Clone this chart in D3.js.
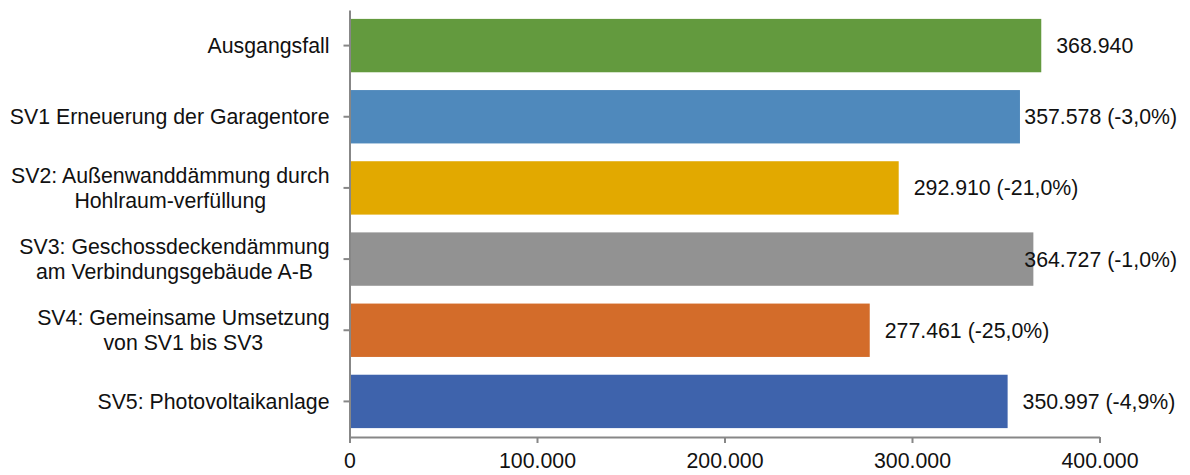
<!DOCTYPE html>
<html lang="de">
<head>
<meta charset="utf-8">
<title>Sanierungsvarianten</title>
<script src="https://cdn.jsdelivr.net/npm/d3@7/dist/d3.min.js"></script>
<style>
  html, body { margin: 0; padding: 0; background: #ffffff; }
  svg { display: block; font-family: "Liberation Sans", Arial, Helvetica, sans-serif; }
</style>
</head>
<body>
<svg id="chart" width="1190" height="475"></svg>
<script>
// Category labels (one entry per line of a label)
const categories = [
  ["Ausgangsfall"],
  ["SV1 Erneuerung der Garagentore"],
  ["SV2: Außenwanddämmung durch", "Hohlraum-verfüllung"],
  ["SV3: Geschossdeckendämmung", "am Verbindungsgebäude A-B"],
  ["SV4: Gemeinsame Umsetzung", "von SV1 bis SV3"],
  ["SV5: Photovoltaikanlage"]
];
const values = [368940, 357578, 292910, 364727, 277461, 350997];
const changes = [null, -3.0, -21.0, -1.0, -25.0, -4.9];
const colors = ["#639a3e", "#4f89bc", "#e2a900", "#929292", "#d36c2a", "#3e63ac"];
const xTicks = [0, 100000, 200000, 300000, 400000];

const de = d3.formatLocale({ decimal: ",", thousands: ".", grouping: [3], currency: ["", " €"], minus: "-" });
const fmtInt = de.format(",.0f");
const fmtPct = de.format(".1f");

const svg = d3.select("#chart");
const fontSize = 21.3;
const textColor = "#111111";
const axisColor = "#878787";

const plot = { left: 349.5, right: 1099.5, top: 10, bottom: 437 };
const labelRightEdge = 1177;   // value labels are kept inside the chart area

const x = d3.scaleLinear().domain([0, 400000]).range([plot.left, plot.right]);
const y = d3.scaleBand()
  .domain(d3.range(categories.length))
  .range([plot.top, plot.bottom])
  .paddingInner(0.25)
  .paddingOuter(0.125);

// Bars
svg.append("g")
  .selectAll("rect")
  .data(values)
  .join("rect")
  .attr("x", x(0))
  .attr("y", (d, i) => y(i))
  .attr("width", d => x(d) - x(0))
  .attr("height", y.bandwidth())
  .attr("fill", (d, i) => colors[i]);

// Bottom axis
const xAxis = svg.append("g")
  .attr("transform", `translate(0,${plot.bottom})`)
  .call(d3.axisBottom(x).tickValues(xTicks).tickFormat(fmtInt).tickSize(6).tickPadding(10).tickSizeOuter(0));
xAxis.select(".domain").attr("stroke", axisColor).attr("stroke-width", 2);
xAxis.selectAll(".tick line").attr("stroke", axisColor).attr("stroke-width", 2);
xAxis.selectAll(".tick text")
  .attr("fill", textColor)
  .style("font-size", fontSize + "px")
  .style("font-family", '"Liberation Sans", Arial, sans-serif');

// Left axis (ticks at category centres, labels drawn separately)
const yAxis = svg.append("g")
  .attr("transform", `translate(${plot.left},0)`)
  .call(d3.axisLeft(y).tickFormat("").tickSize(6).tickSizeOuter(0));
yAxis.select(".domain").attr("stroke", axisColor).attr("stroke-width", 2);
yAxis.selectAll(".tick line").attr("stroke", axisColor).attr("stroke-width", 2);

// Category labels: block right-aligned, lines centred within the block
const lineHeight = 25;
const catRight = plot.left - 20;
categories.forEach((lines, i) => {
  const cy = y(i) + y.bandwidth() / 2;
  const g = svg.append("g");
  const texts = lines.map((line, k) =>
    g.append("text")
      .attr("y", cy + (k - (lines.length - 1) / 2) * lineHeight)
      .attr("dy", "0.35em")
      .attr("fill", textColor)
      .style("font-size", fontSize + "px")
      .text(line)
  );
  const widths = texts.map(t => t.node().getComputedTextLength());
  const blockW = d3.max(widths);
  const centre = catRight - blockW / 2;
  texts.forEach(t => t.attr("x", centre).attr("text-anchor", "middle"));
});

// Value labels
values.forEach((v, i) => {
  const label = changes[i] === null ? fmtInt(v) : `${fmtInt(v)} (${fmtPct(changes[i])}%)`;
  const t = svg.append("text")
    .attr("y", y(i) + y.bandwidth() / 2)
    .attr("dy", "0.35em")
    .attr("fill", textColor)
    .style("font-size", fontSize + "px")
    .text(label);
  const w = t.node().getComputedTextLength();
  const x0 = Math.min(x(v) + 15, labelRightEdge - w);
  t.attr("x", x0);
});
</script>
</body>
</html>
